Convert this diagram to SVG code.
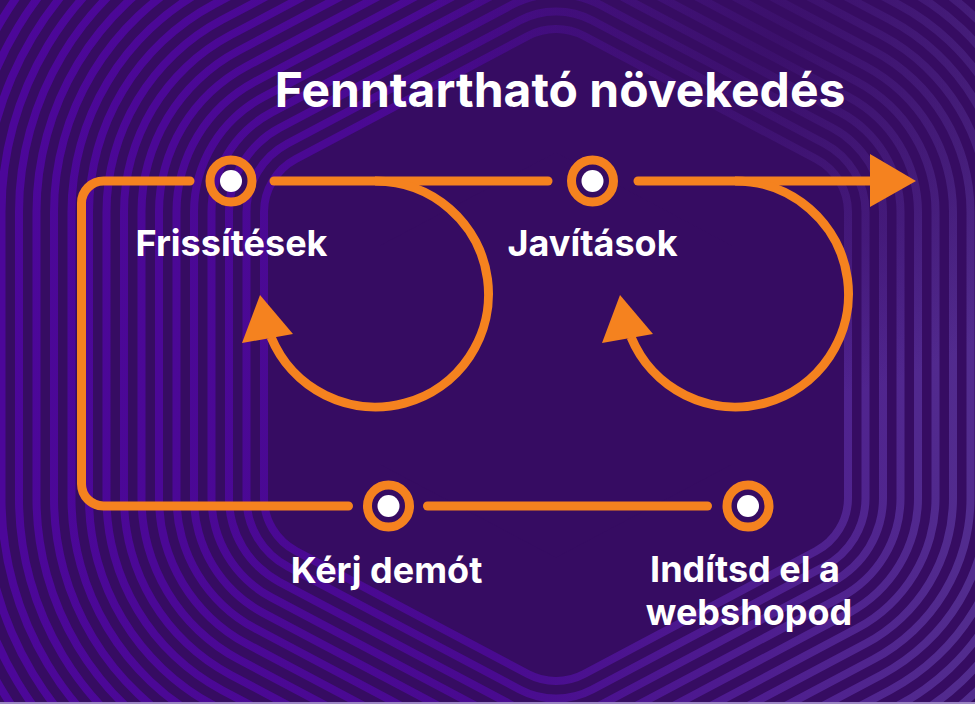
<svg xmlns="http://www.w3.org/2000/svg" xmlns:xlink="http://www.w3.org/1999/xlink" width="975" height="704" viewBox="0 0 975 704">
<defs>
<linearGradient id="lg" gradientUnits="userSpaceOnUse" x1="0" y1="0" x2="975" y2="0">
<stop offset="0" stop-color="#4c0799"/>
<stop offset="0.5" stop-color="#490a90"/>
<stop offset="1" stop-color="#522c8e"/>
</linearGradient>
<radialGradient id="fade" gradientUnits="userSpaceOnUse" cx="780" cy="40" r="360">
<stop offset="0" stop-color="#360c62" stop-opacity="0.8"/>
<stop offset="0.6" stop-color="#360c62" stop-opacity="0.45"/>
<stop offset="1" stop-color="#360c62" stop-opacity="0"/>
</radialGradient>
<path id="core" d="M324 212 L556 89 L788 212 L788 498 L556 621 L324 498 Z" fill="#360c62" stroke-linejoin="round"/>
</defs>
<style>
.lt{stroke:url(#lg)}
.dk{stroke:#360c62}
.wire{fill:none;stroke:#f5821f;stroke-width:9;stroke-linecap:round;stroke-linejoin:round}
.loop{fill:none;stroke:#f5821f;stroke-width:9}
.head{fill:#f5821f}
.ring{fill:none;stroke:#f5821f;stroke-width:9}
.dot{fill:#ffffff}
.lbl{font-family:Inter,"Liberation Sans",sans-serif;font-weight:700;font-size:36px;fill:#ffffff;text-anchor:middle}
.title{font-family:Inter,"Liberation Sans",sans-serif;font-weight:700;font-size:48px;fill:#ffffff;text-anchor:middle}
</style>
<g id="background">
<rect x="0" y="0" width="975" height="704" fill="#360c62"/>
<use xlink:href="#core" class="lt" stroke-width="828"/><use xlink:href="#core" class="dk" stroke-width="812"/>
<use xlink:href="#core" class="lt" stroke-width="793"/><use xlink:href="#core" class="dk" stroke-width="777"/>
<use xlink:href="#core" class="lt" stroke-width="758"/><use xlink:href="#core" class="dk" stroke-width="742"/>
<use xlink:href="#core" class="lt" stroke-width="723"/><use xlink:href="#core" class="dk" stroke-width="707"/>
<use xlink:href="#core" class="lt" stroke-width="688"/><use xlink:href="#core" class="dk" stroke-width="672"/>
<use xlink:href="#core" class="lt" stroke-width="653"/><use xlink:href="#core" class="dk" stroke-width="637"/>
<use xlink:href="#core" class="lt" stroke-width="618"/><use xlink:href="#core" class="dk" stroke-width="602"/>
<use xlink:href="#core" class="lt" stroke-width="583"/><use xlink:href="#core" class="dk" stroke-width="567"/>
<use xlink:href="#core" class="lt" stroke-width="548"/><use xlink:href="#core" class="dk" stroke-width="532"/>
<use xlink:href="#core" class="lt" stroke-width="513"/><use xlink:href="#core" class="dk" stroke-width="497"/>
<use xlink:href="#core" class="lt" stroke-width="478"/><use xlink:href="#core" class="dk" stroke-width="462"/>
<use xlink:href="#core" class="lt" stroke-width="443"/><use xlink:href="#core" class="dk" stroke-width="427"/>
<use xlink:href="#core" class="lt" stroke-width="408"/><use xlink:href="#core" class="dk" stroke-width="392"/>
<use xlink:href="#core" class="lt" stroke-width="373"/><use xlink:href="#core" class="dk" stroke-width="357"/>
<use xlink:href="#core" class="lt" stroke-width="338"/><use xlink:href="#core" class="dk" stroke-width="322"/>
<use xlink:href="#core" class="lt" stroke-width="303"/><use xlink:href="#core" class="dk" stroke-width="287"/>
<use xlink:href="#core" class="lt" stroke-width="268"/><use xlink:href="#core" class="dk" stroke-width="252"/>
<use xlink:href="#core" class="lt" stroke-width="233"/><use xlink:href="#core" class="dk" stroke-width="217"/>
<use xlink:href="#core" class="lt" stroke-width="198"/><use xlink:href="#core" class="dk" stroke-width="182"/>
<use xlink:href="#core" class="lt" stroke-width="163"/><use xlink:href="#core" class="dk" stroke-width="147"/>
<use xlink:href="#core" class="lt" stroke-width="128"/><use xlink:href="#core" class="dk" stroke-width="112"/>
<rect x="0" y="0" width="975" height="704" fill="url(#fade)"/>
<rect x="0" y="702" width="975" height="2" fill="#9c86c4"/>
</g>
<text class="title" x="560" y="107">Fenntartható növekedés</text>
<g id="connectors">
<path class="wire" d="M190 181 H103.5 A22 22 0 0 0 81.5 203 V484 A22 22 0 0 0 103.5 506 H348.5"/>
<path class="wire" d="M274 181 H548"/>
<path class="wire" d="M638 181 H872"/>
<polygon class="head" points="870,154 916,181 870,207"/>
<path class="wire" d="M427.5 506 H707.5"/>
<path class="loop" d="M375 181 A113 113 0 1 1 271 337"/>
<polygon class="head" points="260,295 242,343 293,334"/>
<path class="loop" d="M735 181 A113 113 0 1 1 631 337"/>
<polygon class="head" points="620,295 602,343 653,334"/>
</g>
<g id="node-frissitesek">
<circle class="ring" cx="231" cy="181" r="21"/><circle class="dot" cx="231" cy="181" r="11"/>
<text class="lbl" x="231.5" y="256">Frissítések</text>
</g>
<g id="node-javitasok">
<circle class="ring" cx="592.5" cy="181" r="21"/><circle class="dot" cx="592.5" cy="181" r="11"/>
<text class="lbl" x="592.5" y="256">Javítások</text>
</g>
<g id="node-kerj-demot">
<circle class="ring" cx="388.5" cy="506" r="21"/><circle class="dot" cx="388.5" cy="506" r="11"/>
<text class="lbl" x="386.5" y="583">Kérj demót</text>
</g>
<g id="node-inditsd">
<circle class="ring" cx="748" cy="506" r="21"/><circle class="dot" cx="748" cy="506" r="11"/>
<text class="lbl" x="745" y="582">Indítsd el a</text>
<text class="lbl" x="749" y="625">webshopod</text>
</g>
</svg>
